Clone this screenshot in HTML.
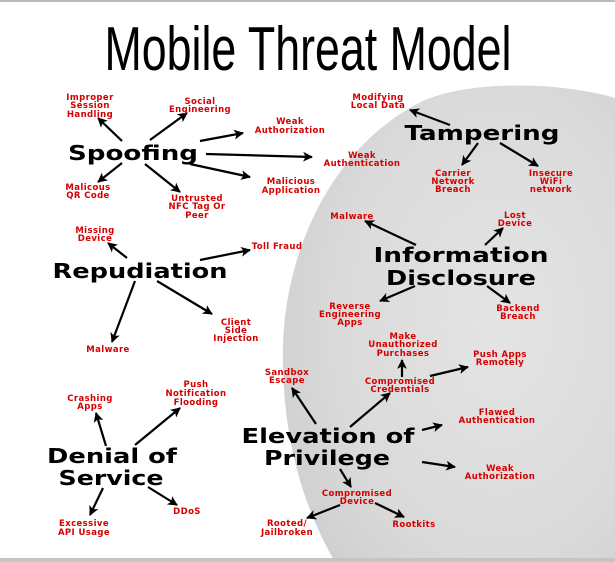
<!DOCTYPE html>
<html><head><meta charset="utf-8"><style>
html,body{margin:0;padding:0;background:#fff;overflow:hidden;}
svg{display:block;}
.r{font-family:"DejaVu Sans",sans-serif;font-weight:bold;font-size:8.5px;fill:#d40000;text-anchor:middle;letter-spacing:0.4px;}
.b{font-family:"DejaVu Sans",sans-serif;font-weight:bold;font-size:20px;fill:#000;text-anchor:middle;}
</style></head><body>
<svg width="615" height="562" viewBox="0 0 615 562" xmlns="http://www.w3.org/2000/svg">
<defs>
<radialGradient id="g" cx="0.65" cy="0.5" r="0.7">
<stop offset="0" stop-color="#e4e4e4"/><stop offset="0.7" stop-color="#dadada"/><stop offset="1" stop-color="#d0d0d0"/>
</radialGradient>
<marker id="a" viewBox="0 0 10 10" refX="9" refY="5" markerWidth="4.5" markerHeight="4.5" orient="auto"><path d="M0,0 L10,5 L0,10 L2.5,5 z" fill="#000"/></marker>
</defs>
<rect width="615" height="562" fill="#fff"/>
<path d="M615,98 C570,84 480,78 425,100 C340,140 286,240 283,345 C281,440 305,510 335,562 L615,562 Z" fill="url(#g)"/>
<rect x="0" y="0" width="615" height="2" fill="#bbb"/>
<rect x="0" y="558" width="615" height="4" fill="#c4c4c4"/>
<text x="308" y="70" font-family="'Liberation Sans Narrow','Liberation Sans',sans-serif" font-size="62" text-anchor="middle" textLength="407" lengthAdjust="spacingAndGlyphs">Mobile Threat Model</text>
<g stroke="#000" stroke-width="2.2" marker-end="url(#a)" fill="none">
<line x1="122" y1="141" x2="98" y2="118"/><line x1="150" y1="140" x2="187" y2="113"/>
<line x1="200" y1="141" x2="243" y2="133"/><line x1="206" y1="154" x2="312" y2="157"/>
<line x1="190" y1="164" x2="250" y2="177"/><line x1="122" y1="163" x2="98" y2="182"/>
<line x1="145" y1="164" x2="180" y2="192"/>
<line x1="127" y1="258" x2="108" y2="243"/><line x1="200" y1="260" x2="250" y2="250"/>
<line x1="157" y1="281" x2="212" y2="314"/><line x1="135" y1="281" x2="112" y2="342"/>
<line x1="450" y1="125" x2="410" y2="110"/><line x1="478" y1="143" x2="462" y2="165"/>
<line x1="500" y1="143" x2="538" y2="166"/>
<line x1="416" y1="245" x2="365" y2="221"/><line x1="485" y1="245" x2="503" y2="228"/>
<line x1="415" y1="286" x2="380" y2="301"/><line x1="487" y1="286" x2="510" y2="303"/>
<line x1="402" y1="377" x2="402" y2="360"/><line x1="430" y1="376" x2="468" y2="367"/>
<line x1="316" y1="424" x2="292" y2="388"/><line x1="350" y1="427" x2="390" y2="393"/>
<line x1="422" y1="430" x2="442" y2="425"/><line x1="422" y1="462" x2="455" y2="467"/>
<line x1="340" y1="469" x2="351" y2="487"/><line x1="340" y1="505" x2="307" y2="518"/>
<line x1="375" y1="503" x2="404" y2="517"/>
<line x1="106" y1="446" x2="96" y2="413"/><line x1="135" y1="445" x2="180" y2="408"/>
<line x1="103" y1="488" x2="90" y2="515"/><line x1="148" y1="487" x2="177" y2="505"/>
</g>
<text class="b" x="133" y="160" textLength="130" lengthAdjust="spacingAndGlyphs">Spoofing</text>
<text class="b" x="140" y="278" textLength="175" lengthAdjust="spacingAndGlyphs">Repudiation</text>
<text class="b" x="482" y="140" textLength="155" lengthAdjust="spacingAndGlyphs">Tampering</text>
<text class="b" x="461" y="262" textLength="175" lengthAdjust="spacingAndGlyphs">Information</text>
<text class="b" x="461" y="285" textLength="150" lengthAdjust="spacingAndGlyphs">Disclosure</text>
<text class="b" x="328" y="443" textLength="173" lengthAdjust="spacingAndGlyphs">Elevation of</text>
<text class="b" x="327" y="465" textLength="126" lengthAdjust="spacingAndGlyphs">Privilege</text>
<text class="b" x="112" y="463" textLength="130" lengthAdjust="spacingAndGlyphs">Denial of</text>
<text class="b" x="111" y="485" textLength="105" lengthAdjust="spacingAndGlyphs">Service</text>
<g class="r">
<text class="r" x="90" y="100">Improper</text><text class="r" x="90" y="108">Session</text><text class="r" x="90" y="117">Handling</text>
<text class="r" x="200" y="104">Social</text><text class="r" x="200" y="112">Engineering</text>
<text class="r" x="290" y="124">Weak</text><text class="r" x="290" y="133">Authorization</text>
<text class="r" x="362" y="158">Weak</text><text class="r" x="362" y="166">Authentication</text>
<text class="r" x="291" y="184">Malicious</text><text class="r" x="291" y="193">Application</text>
<text class="r" x="88" y="190">Malicous</text><text class="r" x="88" y="198">QR Code</text>
<text class="r" x="197" y="201">Untrusted</text><text class="r" x="197" y="209">NFC Tag Or</text><text class="r" x="197" y="218">Peer</text>
<text class="r" x="95" y="233">Missing</text><text class="r" x="95" y="241">Device</text>
<text class="r" x="277" y="249">Toll Fraud</text>
<text class="r" x="236" y="325">Client</text><text class="r" x="236" y="333">Side</text><text class="r" x="236" y="341">Injection</text>
<text class="r" x="108" y="352">Malware</text>
<text class="r" x="378" y="100">Modifying</text><text class="r" x="378" y="108">Local Data</text>
<text class="r" x="453" y="176">Carrier</text><text class="r" x="453" y="184">Network</text><text class="r" x="453" y="192">Breach</text>
<text class="r" x="551" y="176">Insecure</text><text class="r" x="551" y="184">WiFi</text><text class="r" x="551" y="192">network</text>
<text class="r" x="352" y="219">Malware</text>
<text class="r" x="515" y="218">Lost</text><text class="r" x="515" y="226">Device</text>
<text class="r" x="350" y="309">Reverse</text><text class="r" x="350" y="317">Engineering</text><text class="r" x="350" y="325">Apps</text>
<text class="r" x="518" y="311">Backend</text><text class="r" x="518" y="319">Breach</text>
<text class="r" x="403" y="339">Make</text><text class="r" x="403" y="347">Unauthorized</text><text class="r" x="403" y="356">Purchases</text>
<text class="r" x="500" y="357">Push Apps</text><text class="r" x="500" y="365">Remotely</text>
<text class="r" x="400" y="384">Compromised</text><text class="r" x="400" y="392">Credentials</text>
<text class="r" x="287" y="375">Sandbox</text><text class="r" x="287" y="383">Escape</text>
<text class="r" x="497" y="415">Flawed</text><text class="r" x="497" y="423">Authentication</text>
<text class="r" x="500" y="471">Weak</text><text class="r" x="500" y="479">Authorization</text>
<text class="r" x="357" y="496">Compromised</text><text class="r" x="357" y="504">Device</text>
<text class="r" x="287" y="526">Rooted/</text><text class="r" x="287" y="535">Jailbroken</text>
<text class="r" x="414" y="527">Rootkits</text>
<text class="r" x="90" y="401">Crashing</text><text class="r" x="90" y="409">Apps</text>
<text class="r" x="196" y="387">Push</text><text class="r" x="196" y="396">Notification</text><text class="r" x="196" y="405">Flooding</text>
<text class="r" x="84" y="526">Excessive</text><text class="r" x="84" y="535">API Usage</text>
<text class="r" x="187" y="514">DDoS</text>
</g>
</svg>
</body></html>
